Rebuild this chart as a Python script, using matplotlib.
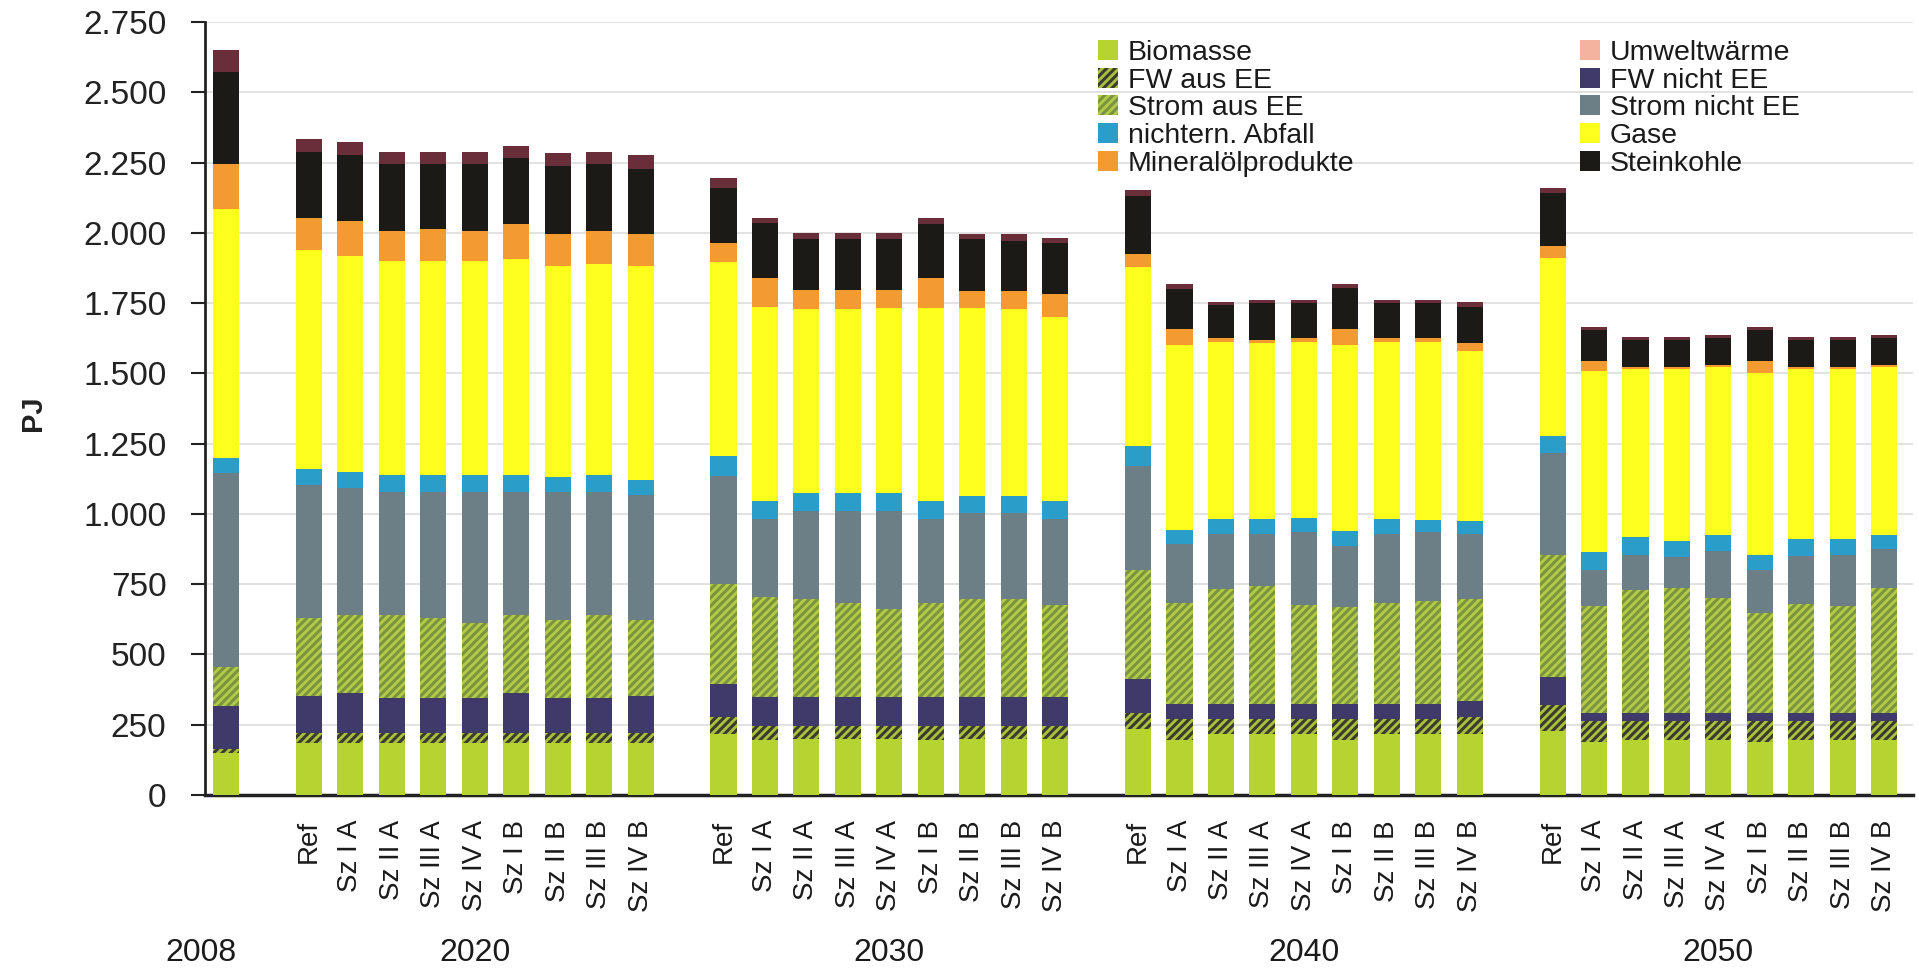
import numpy as np
import matplotlib.pyplot as plt
from matplotlib.patches import Patch
from matplotlib.ticker import FuncFormatter

plt.rcParams['font.family'] = ['Liberation Sans', 'DejaVu Sans']
plt.rcParams['hatch.linewidth'] = 2.2

# Jahre und Szenarien
years = ['2008', '2020', '2030', '2040', '2050']
scenarios = ['Ref', 'Sz I A', 'Sz II A', 'Sz III A', 'Sz IV A',
             'Sz I B', 'Sz II B', 'Sz III B', 'Sz IV B']

# Werte in PJ: 2008, dann je 9 Szenarien fuer 2020, 2030, 2040, 2050
biomasse = [150,
            184, 184, 184, 184, 184, 184, 184, 184, 184,
            218, 196, 199, 199, 199, 196, 199, 199, 199,
            236, 195, 216, 216, 216, 195, 216, 216, 216,
            226, 190, 197, 197, 197, 190, 197, 197, 197]
fw_ee = [15,
         36, 36, 36, 36, 36, 36, 36, 36, 36,
         58, 51, 48, 48, 48, 51, 48, 48, 48,
         54, 75, 54, 54, 54, 75, 54, 54, 61,
         95, 72, 65, 65, 65, 72, 65, 65, 65]
fw_nicht_ee = [151,
               131, 142, 124, 124, 124, 142, 124, 124, 131,
               119, 102, 102, 102, 102, 102, 102, 102, 102,
               122, 54, 54, 54, 54, 54, 54, 54, 57,
               99, 30, 30, 30, 30, 30, 30, 30, 30]
strom_ee = [138,
            280, 278, 296, 287, 269, 278, 278, 296, 271,
            354, 356, 349, 334, 312, 334, 349, 349, 327,
            387, 360, 407, 421, 353, 346, 360, 366, 363,
            433, 379, 437, 444, 408, 357, 386, 379, 444]
strom_nicht_ee = [691,
                  470, 452, 438, 447, 465, 438, 456, 438, 444,
                  385, 276, 312, 327, 349, 298, 305, 305, 305,
                  373, 210, 197, 183, 258, 217, 244, 245, 231,
                  364, 131, 124, 110, 168, 153, 171, 182, 139]
abfall = [54,
          57, 57, 59, 59, 59, 59, 53, 59, 53,
          72, 66, 66, 66, 66, 66, 62, 62, 66,
          68, 47, 54, 54, 50, 52, 54, 44, 47,
          59, 61, 66, 58, 58, 51, 62, 58, 51]
gase = [886,
        782, 768, 762, 762, 762, 771, 750, 753, 762,
        691, 690, 654, 654, 658, 687, 669, 665, 654,
        637, 658, 631, 627, 628, 660, 631, 634, 604,
        634, 646, 597, 612, 598, 649, 605, 605, 598]
mineraloel = [160,
              113, 124, 106, 115, 106, 124, 115, 115, 115,
              65, 102, 68, 68, 61, 105, 58, 62, 82,
              48, 59, 13, 11, 13, 59, 13, 13, 30,
              44, 34, 8, 8, 7, 41, 8, 8, 7]
steinkohle = [328,
              236, 236, 240, 231, 240, 234, 240, 240, 231,
              196, 196, 179, 179, 182, 192, 185, 180, 179,
              206, 141, 118, 129, 123, 145, 123, 123, 126,
              189, 112, 94, 94, 95, 112, 94, 94, 95]
sonstige = [76,
            44, 47, 44, 44, 44, 41, 48, 44, 48,
            37, 17, 22, 22, 22, 21, 19, 24, 19,
            21, 17, 11, 13, 13, 13, 13, 13, 20,
            18, 10, 12, 12, 10, 10, 12, 12, 10]

# Reihenfolge von unten nach oben: (Werte, Farbe, Schraffur, Schraffurfarbe)
layers = [
    (biomasse, '#b6d332', None, None),
    (fw_ee, '#a9c23c', '////', '#3d3b30'),
    (fw_nicht_ee, '#3f3a6a', None, None),
    (strom_ee, '#b3cb47', '////', '#7a9440'),
    (strom_nicht_ee, '#6c7f87', None, None),
    (abfall, '#2a9dc8', None, None),
    (gase, '#ffff1e', None, None),
    (mineraloel, '#f39a30', None, None),
    (steinkohle, '#1b1a17', None, None),
    (sonstige, '#6a2e3b', None, None),
]

# x-Positionen: 2008 allein, danach Gruppen mit Luecke
x = [0] + [2 + 10 * g + i for g in range(4) for i in range(9)]

fig = plt.figure(figsize=(19.19, 9.76), dpi=100)
ax = fig.add_axes([0.107, 0.1855, 0.890, 0.792])

bottom = np.zeros(len(x))
for vals, col, hatch, hcol in layers:
    vals = np.array(vals, dtype=float)
    if hatch:
        ax.bar(x, vals, 0.63, bottom=bottom, color=col, hatch=hatch,
               edgecolor=hcol, linewidth=0, zorder=3)
    else:
        ax.bar(x, vals, 0.63, bottom=bottom, color=col, linewidth=0, zorder=3)
    bottom += vals

ax.set_ylim(0, 2750)
ax.set_xlim(-0.5, 40.7)
ax.set_yticks(np.arange(0, 2751, 250))
ax.yaxis.set_major_formatter(FuncFormatter(lambda v, p: '{:,.0f}'.format(v).replace(',', '.')))
ax.tick_params(axis='y', labelsize=24, length=10, width=1.5, pad=18, colors='#222222')
ax.grid(axis='y', color='#dddddd', linewidth=1.2, zorder=0)

ax.set_xticks(x[1:])
ax.set_xticklabels(scenarios * 4, rotation=90, fontsize=20, color='#1a1a1a')
ax.tick_params(axis='x', length=0, pad=18)

for s in ['top', 'right']:
    ax.spines[s].set_visible(False)
ax.spines['left'].set_linewidth(2)
ax.spines['bottom'].set_linewidth(2.5)
ax.spines['left'].set_color('#222222')
ax.spines['bottom'].set_color('#222222')

# Jahreszahlen unter den Gruppen
year_x = [-0.6] + [2 + 10 * g + 4 for g in range(4)]
trans = ax.get_xaxis_transform()
for xx, yr in zip(year_x, years):
    ax.text(xx, -0.205, yr, transform=trans, ha='center', va='center',
            fontsize=23, color='#1a1a1a')

fig.text(0.017, 0.577, 'PJ', rotation=90, ha='center', va='center',
         fontsize=21, fontweight='bold', color='#222222')

# Legende in zwei Spalten
left_items = [('Biomasse', '#b6d332', None, None),
              ('FW aus EE', '#a9c23c', '////', '#3d3b30'),
              ('Strom aus EE', '#b3cb47', '////', '#7a9440'),
              ('nichtern. Abfall', '#2a9dc8', None, None),
              ('Mineralölprodukte', '#f39a30', None, None)]
right_items = [('Umweltwärme', '#f4b39e', None, None),
               ('FW nicht EE', '#3f3a6a', None, None),
               ('Strom nicht EE', '#6c7f87', None, None),
               ('Gase', '#ffff1e', None, None),
               ('Steinkohle', '#1b1a17', None, None)]


def make_handles(items):
    hs = []
    for lab, col, hatch, hcol in items:
        if hatch:
            hs.append(Patch(facecolor=col, hatch=hatch, edgecolor=hcol, linewidth=0, label=lab))
        else:
            hs.append(Patch(facecolor=col, linewidth=0, label=lab))
    return hs


leg_kw = dict(loc='upper left', frameon=False, fontsize=20.5, handlelength=0.7,
              handleheight=0.7, handletextpad=0.35, labelspacing=0.06,
              borderpad=0, borderaxespad=0)
leg1 = fig.legend(handles=make_handles(left_items),
                  bbox_to_anchor=(1098 / 1919, 1 - 40 / 976), **leg_kw)
leg2 = fig.legend(handles=make_handles(right_items),
                  bbox_to_anchor=(1580 / 1919, 1 - 40 / 976), **leg_kw)
for t in leg1.get_texts() + leg2.get_texts():
    t.set_color('#1a1a1a')

fig.savefig('out.png', dpi=100, facecolor='white')
